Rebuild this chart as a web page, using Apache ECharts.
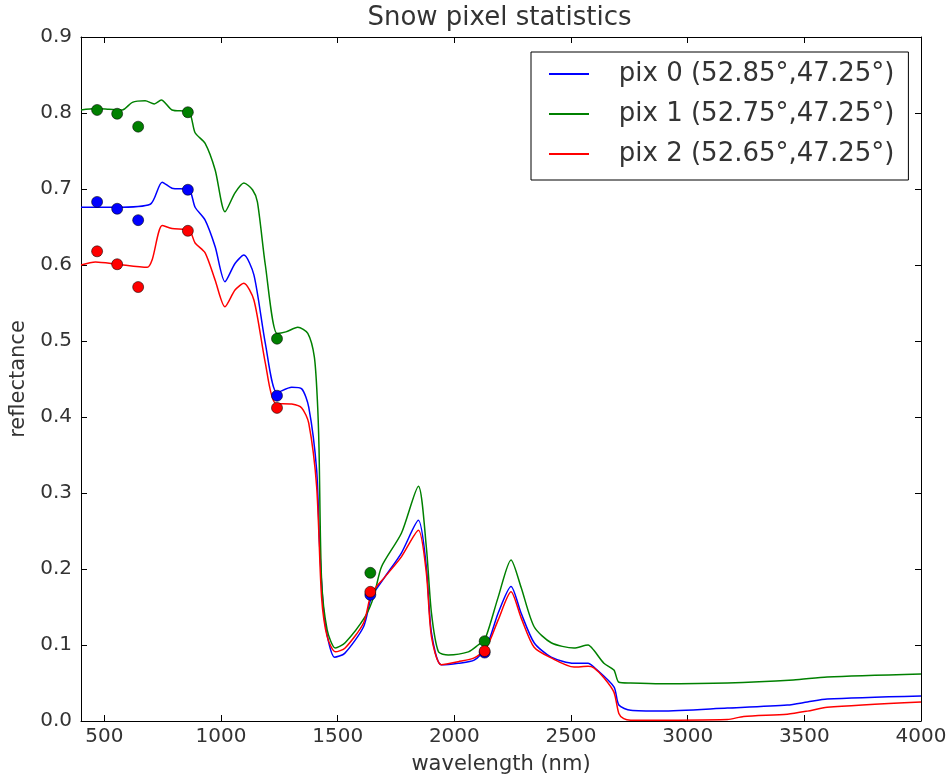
<!DOCTYPE html>
<html>
<head>
<meta charset="utf-8">
<script src="https://cdn.jsdelivr.net/npm/echarts@6/dist/echarts.min.js"></script>
<style>html,body{margin:0;padding:0;background:#fff;}#chart{width:950px;height:781px;}</style>
</head>
<body>
<div id="chart"></div>
<script>
const titleText = 'Snow pixel statistics';
const xAxisName = 'wavelength (nm)';
const yAxisName = 'reflectance';
const xTickValues = [500, 1000, 1500, 2000, 2500, 3000, 3500, 4000];
const seriesNames = ['pix 0 (52.85°,47.25°)', 'pix 1 (52.75°,47.25°)', 'pix 2 (52.65°,47.25°)'];

const pix0Wavelength = [400,547,697,748,790,863,889,932,975,1017,1060,1098,1141,1190,1240,1303,1346,1376,1410,1423,1444,1487,1530,1611,1645,1701,1773,1846,1880,1902,1944,2017,2085,2137,2188,2243,2286,2342,2415,2513,2573,2598,2684,2705,2756,2885,3170,3427,3513,3598,4000];
const pix0Reflectance = [0.676,0.676,0.680,0.709,0.701,0.699,0.676,0.659,0.624,0.578,0.602,0.613,0.587,0.497,0.432,0.439,0.437,0.413,0.330,0.229,0.133,0.084,0.089,0.124,0.163,0.189,0.221,0.264,0.203,0.116,0.074,0.076,0.080,0.097,0.142,0.177,0.142,0.103,0.084,0.076,0.076,0.071,0.045,0.021,0.014,0.013,0.017,0.021,0.025,0.029,0.033];

const pix1Wavelength = [400,462,520,577,620,675,714,744,790,863,889,932,975,1017,1060,1098,1135,1156,1190,1240,1278,1329,1372,1400,1413,1420,1431,1455,1490,1532,1617,1654,1688,1773,1846,1880,1902,1932,1974,2060,2102,2132,2188,2243,2286,2342,2415,2513,2573,2598,2641,2684,2705,2756,2885,3170,3453,3598,4000];
const pix1Reflectance = [0.804,0.806,0.805,0.804,0.814,0.816,0.812,0.817,0.804,0.801,0.774,0.760,0.725,0.670,0.695,0.708,0.699,0.683,0.600,0.510,0.512,0.518,0.510,0.479,0.422,0.360,0.186,0.120,0.096,0.103,0.137,0.163,0.203,0.247,0.309,0.229,0.142,0.091,0.087,0.091,0.100,0.108,0.163,0.212,0.176,0.124,0.103,0.096,0.100,0.093,0.076,0.067,0.051,0.050,0.049,0.050,0.054,0.058,0.062];

const pix2Wavelength = [400,462,556,684,705,748,790,863,889,932,975,1017,1060,1098,1141,1190,1233,1303,1346,1376,1410,1431,1455,1490,1532,1611,1645,1701,1773,1846,1880,1902,1944,2017,2085,2137,2188,2243,2286,2342,2415,2513,2573,2598,2641,2684,2705,2726,2756,3170,3240,3427,3513,3598,4000];
const pix2Reflectance = [0.600,0.604,0.601,0.597,0.607,0.652,0.648,0.646,0.629,0.616,0.580,0.545,0.567,0.576,0.554,0.471,0.418,0.417,0.412,0.392,0.308,0.163,0.111,0.091,0.096,0.129,0.168,0.189,0.216,0.251,0.195,0.111,0.074,0.078,0.083,0.096,0.133,0.170,0.136,0.097,0.083,0.071,0.072,0.070,0.057,0.038,0.010,0.003,0.001,0.002,0.006,0.009,0.013,0.018,0.025];

const bandWavelength = [469, 555, 645, 858, 1240, 1640, 2130];
const pix0Band = [0.683, 0.674, 0.659, 0.699, 0.428, 0.166, 0.090];
const pix1Band = [0.804, 0.799, 0.782, 0.801, 0.503, 0.195, 0.105];
const pix2Band = [0.618, 0.601, 0.571, 0.645, 0.412, 0.170, 0.092];

const colors = ['#0000ff', '#008000', '#ff0000'];
const FONT = 'DejaVu Sans';
const TXT = '#333';

function pairs(xs, ys) { return xs.map((x, i) => [x, ys[i]]); }

const lineData = [pairs(pix0Wavelength, pix0Reflectance), pairs(pix1Wavelength, pix1Reflectance), pairs(pix2Wavelength, pix2Reflectance)];
const bandData = [pairs(bandWavelength, pix0Band), pairs(bandWavelength, pix1Band), pairs(bandWavelength, pix2Band)];

const series = [];
lineData.forEach((d, i) => {
  series.push({
    name: seriesNames[i], type: 'line', data: d, showSymbol: false, symbol: 'none',
    smooth: 0.25,
    lineStyle: { color: colors[i], width: 1.5 }, itemStyle: { color: colors[i] },
    animation: false, z: 2
  });
});
bandData.forEach((d, i) => {
  series.push({
    name: 'band ' + i, type: 'scatter', data: d, symbol: 'circle', symbolSize: 11,
    itemStyle: { color: colors[i], borderColor: 'rgba(0,0,0,0.55)', borderWidth: 1, opacity: 1 },
    animation: false, z: 3
  });
});

const chart = echarts.init(document.getElementById('chart'), null, { renderer: 'canvas' });
const gridLeft = 78, gridRight = 29, gridTop = 37, gridBottom = 60;
chart.setOption({
  backgroundColor: '#fff',
  animation: false,
  textStyle: { fontFamily: FONT },
  grid: { left: gridLeft, right: gridRight, top: gridTop, bottom: gridBottom, containLabel: false },
  graphic: [{
    type: 'text', x: (gridLeft + 950 - gridRight) / 2, y: 18,
    style: { text: titleText, font: '26px "DejaVu Sans"', fill: TXT, textAlign: 'center', textVerticalAlign: 'middle' }
  }],
  legend: {
    data: seriesNames, orient: 'vertical', left: 531, top: 52,
    icon: 'path://M0,0L40,0L40,2L0,2Z', itemWidth: 40, itemHeight: 2, itemGap: 10,
    backgroundColor: '#fff', borderColor: '#000', borderWidth: 1, borderRadius: 0,
    padding: [7, 14, 11, 18],
    formatter: '   {name}',
    textStyle: { fontFamily: FONT, fontSize: 26, color: TXT, lineHeight: 30 },
    selectedMode: false
  },
  xAxis: [{
    type: 'value', min: 400, max: 4000, position: 'bottom',
    name: xAxisName, nameLocation: 'middle', nameGap: 33,
    nameTextStyle: { fontFamily: FONT, fontSize: 21, color: TXT },
    axisLine: { show: true, lineStyle: { color: '#000', width: 1 } },
    axisTick: { show: true, inside: true, length: 6, customValues: xTickValues, lineStyle: { color: '#000' } },
    axisLabel: { show: true, customValues: xTickValues, fontFamily: FONT, fontSize: 20, color: TXT, margin: 6, formatter: v => String(v) },
    splitLine: { show: false }
  }, {
    type: 'value', min: 400, max: 4000, position: 'top',
    axisLine: { show: true, onZero: false, lineStyle: { color: '#000', width: 1 } },
    axisTick: { show: true, inside: true, length: 6, customValues: xTickValues, lineStyle: { color: '#000' } },
    axisLabel: { show: false }, splitLine: { show: false }
  }],
  yAxis: [{
    type: 'value', min: 0, max: 0.9, interval: 0.1, position: 'left',
    name: yAxisName, nameLocation: 'middle', nameGap: 52, nameRotate: 90,
    nameTextStyle: { fontFamily: FONT, fontSize: 21, color: TXT },
    axisLine: { show: true, lineStyle: { color: '#000', width: 1 } },
    axisTick: { show: true, inside: true, length: 6, lineStyle: { color: '#000' } },
    axisLabel: { fontFamily: FONT, fontSize: 20, color: TXT, margin: 9, formatter: v => v.toFixed(1) },
    splitLine: { show: false }
  }, {
    type: 'value', min: 0, max: 0.9, interval: 0.1, position: 'right',
    axisLine: { show: true, onZero: false, lineStyle: { color: '#000', width: 1 } },
    axisTick: { show: true, inside: true, length: 6, lineStyle: { color: '#000' } },
    axisLabel: { show: false }, splitLine: { show: false }
  }],
  series: series
});
</script>
</body>
</html>
